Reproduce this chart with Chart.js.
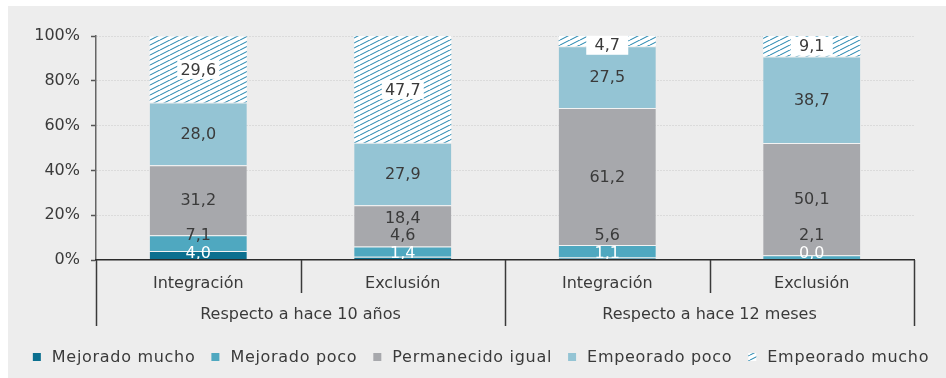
<!DOCTYPE html>
<html>
<head>
<meta charset="utf-8">
<script src="https://cdn.jsdelivr.net/npm/chart.js@4"></script>
<style>
  html, body { margin: 0; padding: 0; background: #ffffff; }
  #panel { position: absolute; left: 8px; top: 6px; width: 938px; height: 372px; background: #ededed; }
  #c { position: absolute; left: 0; top: 0; }
</style>
</head>
<body>
<div id="panel"></div>
<canvas id="c" width="946" height="378"></canvas>
<script>
// Categories, groups and series
const categories = ['Integración', 'Exclusión', 'Integración', 'Exclusión'];
const groupLabels = ['Respecto a hace 10 años', 'Respecto a hace 12 meses'];
const seriesNames = ['Mejorado mucho', 'Mejorado poco', 'Permanecido igual', 'Empeorado poco', 'Empeorado mucho'];

const mejoradoMucho    = [4.0, 1.4, 1.1, 0.0];
const mejoradoPoco     = [7.1, 4.6, 5.6, 2.1];
const permanecidoIgual = [31.2, 18.4, 61.2, 50.1];
const empeoradoPoco    = [28.0, 27.9, 27.5, 38.7];
const empeoradoMucho   = [29.6, 47.7, 4.7, 9.1];

const yTicks = [0, 20, 40, 60, 80, 100];

const FONT = "'DejaVu Sans', sans-serif";
const TEXT = '#3a3a3a';

// Diagonal hatch used for "Empeorado mucho"
function makeHatch() {
  const w = 10, h = 5;
  const t = document.createElement('canvas');
  t.width = w; t.height = h;
  const g = t.getContext('2d');
  g.fillStyle = '#ffffff';
  g.fillRect(0, 0, w, h);
  g.strokeStyle = '#2f8db4';
  g.lineWidth = 1.1;
  [-w, 0, w].forEach(dx => {
    g.beginPath();
    g.moveTo(dx, h);
    g.lineTo(dx + w, 0);
    g.stroke();
  });
  return document.getElementById('c').getContext('2d').createPattern(t, 'repeat');
}
const hatch = makeHatch();

const colors = ['#0b6f8f', '#4fa8c0', '#a7a8ac', '#94c4d4', hatch];
const values = [mejoradoMucho, mejoradoPoco, permanecidoIgual, empeoradoPoco, empeoradoMucho];

const fmt = v => v.toFixed(1).replace('.', ',');

// Value labels inside the stacked segments
const valueLabels = {
  id: 'valueLabels',
  afterDatasetsDraw(chart) {
    const ctx = chart.ctx;
    const zero = chart.scales.y.getPixelForValue(0);
    ctx.save();
    ctx.font = '16px ' + FONT;
    ctx.textAlign = 'center';
    ctx.textBaseline = 'middle';
    chart.data.datasets.forEach((ds, i) => {
      const meta = chart.getDatasetMeta(i);
      meta.data.forEach((bar, j) => {
        const v = ds.data[j];
        const top = Math.min(bar.y, bar.base);
        const bottom = Math.max(bar.y, bar.base);
        const center = (top + bottom) / 2;
        let y = center;
        let color = TEXT;
        if (i === 0) { y = zero - 7; color = '#ffffff'; }
        else if (i === 1) { y = zero - 25.5; }
        else if (i === 2) { y = Math.min(center, zero - 42); }
        else if (i === 4) {
          y = Math.max(center, top + 9.5);
          ctx.fillStyle = '#ffffff';
          ctx.fillRect(bar.x - 21, y - 9.5, 42, 19);
        }
        ctx.fillStyle = color;
        ctx.fillText(fmt(v), bar.x, y + 1);
      });
    });
    ctx.restore();
  }
};

// Category separators, group labels and legend below the axis
const axisDecor = {
  id: 'axisDecor',
  afterDraw(chart) {
    const ctx = chart.ctx;
    const x = chart.scales.x;
    const area = chart.chartArea;
    const n = categories.length;
    const step = (area.right - area.left) / n;
    const axisY = area.bottom;
    ctx.save();
    ctx.strokeStyle = '#3a3a3a';
    ctx.lineWidth = 1.5;
    for (let k = 0; k <= n; k++) {
      const px = Math.round(k === n ? area.right : x.getPixelForValue(k) - step / 2) + 0.5;
      const long = (k % 2 === 0);
      ctx.beginPath();
      ctx.moveTo(px, axisY);
      ctx.lineTo(px, long ? axisY + 66 : axisY + 33);
      ctx.stroke();
    }
    ctx.font = '16px ' + FONT;
    ctx.fillStyle = TEXT;
    ctx.textAlign = 'center';
    ctx.textBaseline = 'middle';
    groupLabels.forEach((g, gi) => {
      const cx = (x.getPixelForValue(gi * 2) + x.getPixelForValue(gi * 2 + 1)) / 2;
      ctx.fillText(g, cx, axisY + 55);
    });

    // legend
    ctx.letterSpacing = '0.7px';
    const box = 8, gapIn = 11, gapOut = 16;
    const widths = seriesNames.map(s => ctx.measureText(s).width);
    const total = widths.reduce((a, b) => a + b, 0) + seriesNames.length * (box + gapIn) + (seriesNames.length - 1) * gapOut;
    let lx = 481 - total / 2;
    const ly = 357;
    ctx.textAlign = 'left';
    chart.data.datasets.forEach((ds, i) => {
      ctx.fillStyle = ds.backgroundColor;
      ctx.fillRect(lx, ly - box / 2, box, box);
      lx += box + gapIn;
      ctx.fillStyle = TEXT;
      ctx.fillText(ds.label, lx, ly + 1);
      lx += widths[i] + gapOut;
    });
    ctx.restore();
  }
};

new Chart(document.getElementById('c'), {
  type: 'bar',
  data: {
    labels: categories,
    datasets: seriesNames.map((name, i) => ({
      label: name,
      data: values[i],
      backgroundColor: colors[i],
      borderColor: 'rgba(255,255,255,0.35)',
      borderWidth: i === 4 ? 0 : { top: 1, left: 0, right: 0, bottom: 0 },
      borderSkipped: 'start',
      barPercentage: 0.475,
      categoryPercentage: 1
    }))
  },
  options: {
    responsive: false,
    animation: false,
    devicePixelRatio: 1,
    layout: { padding: { top: 36, left: 0, right: 32, bottom: 52 } },
    plugins: {
      legend: { display: false },
      tooltip: { enabled: false }
    },
    scales: {
      x: {
        stacked: true,
        grid: { display: false, drawTicks: false },
        border: { display: true, color: '#2b2b2b', width: 1.5, z: 1 },
        ticks: { color: TEXT, font: { family: FONT, size: 16 }, padding: 14 },
        afterFit(scale) { scale.height = 66; }
      },
      y: {
        stacked: true,
        min: 0,
        max: 100,
        afterBuildTicks(scale) { scale.ticks = yTicks.map(v => ({ value: v })); },
        grid: {
          color: c => (c.tick && c.tick.value === 0) ? 'rgba(0,0,0,0)' : '#c8c8c8',
          lineWidth: 1,
          tickColor: '#555555',
          tickLength: 5,
          tickWidth: 1.5
        },
        border: { color: '#666666', width: 1.5, dash: [1, 2] },
        ticks: {
          color: TEXT,
          font: { family: FONT, size: 16 },
          padding: 11,
          callback: v => v + '%'
        },
        afterFit(scale) { scale.width = 96; }
      }
    }
  },
  plugins: [valueLabels, axisDecor]
});
</script>
</body>
</html>
